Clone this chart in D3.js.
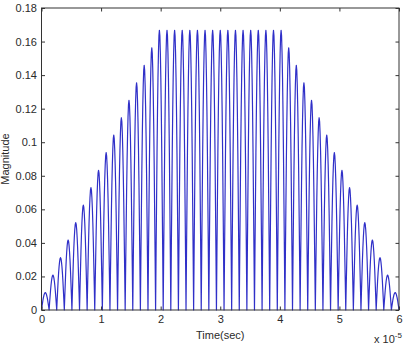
<!DOCTYPE html>
<html><head><meta charset="utf-8">
<script src="https://cdn.jsdelivr.net/npm/d3@7"></script>
<style>
html,body{margin:0;padding:0;background:#fff;}
svg{display:block;}
text{font-family:"Liberation Sans",Arial,sans-serif;}
</style></head>
<body>
<svg id="chart" width="405" height="345"></svg>
<script>
// ---- data ----
// peak magnitude of each successive hump (47 humps spanning 0..6e-5 s)
const rampUp = [0.0104,0.0208,0.0312,0.0417,0.0521,0.0625,0.0729,0.0833,0.0938,0.1042,0.1146,0.125,0.1354,0.1458,0.1563];
const flatTop = [0.1667,0.1667,0.1667,0.1667,0.1667,0.1667,0.1667,0.1667,0.1667,0.1667,0.1667,0.1667,0.1667,0.1667,0.1667,0.1667,0.1667];
const rampDown = [0.1563,0.1458,0.1354,0.125,0.1146,0.1042,0.0938,0.0833,0.0729,0.0625,0.0521,0.0417,0.0312,0.0208,0.0104];
const peakHeights = rampUp.concat(flatTop, rampDown);
// relative shape of one hump (rectified arch), sampled across its width
const humpProfile = [0,0.2,0.38,0.56,0.71,0.83,0.92,0.98,1,0.98,0.92,0.83,0.71,0.56,0.38,0.2,0];
const timeStart = 0, timeEnd = 6e-5;
const xTickValues = [0,1,2,3,4,5,6];           // in units of 1e-5 s
const yTickValues = [0,0.02,0.04,0.06,0.08,0.1,0.12,0.14,0.16,0.18];
const xLabel = "Time(sec)", yLabel = "Magnitude";

// ---- build series ----
const humpWidth = (timeEnd - timeStart) / peakHeights.length;
const series = [];
peakHeights.forEach((p, i) => {
  humpProfile.forEach((f, j) => {
    if (i > 0 && j === 0) return;
    series.push([timeStart + (i + j / (humpProfile.length - 1)) * humpWidth, p * f]);
  });
});

const svg = d3.select("#chart");
const L = 41.5, R = 399, T = 8, B = 310;
const x = d3.scaleLinear().domain([0, 6e-5]).range([L, R]);
const y = d3.scaleLinear().domain([0, 0.18]).range([B, T]);

svg.append("rect").attr("x",0).attr("y",0).attr("width",405).attr("height",345).attr("fill","#fff");

// line
svg.append("path")
  .datum(series)
  .attr("fill","none")
  .attr("stroke","#3030c8")
  .attr("stroke-width",1.2)
  .attr("stroke-linejoin","round")
  .attr("d", d3.line().x(d => x(d[0])).y(d => y(d[1])));

const tickLen = 3.5;
const xt = xTickValues.map(v => v * 1e-5);
const fmtY = d3.format("~g");

const gx = svg.append("g").attr("transform",`translate(0,${B})`)
  .call(d3.axisBottom(x).tickValues(xt).tickSizeInner(-tickLen).tickSizeOuter(0).tickPadding(5)
    .tickFormat((d,i) => String(xTickValues[i])));
const gxt = svg.append("g").attr("transform",`translate(0,${T})`)
  .call(d3.axisTop(x).tickValues(xt).tickSizeInner(-tickLen).tickSizeOuter(0).tickFormat(""));
const gy = svg.append("g").attr("transform",`translate(${L},0)`)
  .call(d3.axisLeft(y).tickValues(yTickValues).tickSizeInner(-tickLen).tickSizeOuter(0).tickPadding(4.5)
    .tickFormat(fmtY));
const gyr = svg.append("g").attr("transform",`translate(${R},0)`)
  .call(d3.axisRight(y).tickValues(yTickValues).tickSizeInner(-tickLen).tickSizeOuter(0).tickFormat(""));

[gx,gxt,gy,gyr].forEach(g => {
  g.select(".domain").remove();
  g.selectAll("line").attr("stroke","#333").attr("stroke-width",1);
  g.selectAll("text").attr("fill","#2a2a2a").style("font-size","11px").attr("font-family","'Liberation Sans',Arial,sans-serif");
});

// box
svg.append("rect").attr("x",L).attr("y",T).attr("width",R-L).attr("height",B-T)
  .attr("fill","none").attr("stroke","#333").attr("stroke-width",1);

// labels
svg.append("text").attr("x",(L+R)/2).attr("y",339).attr("text-anchor","middle")
  .attr("fill","#2a2a2a").style("font-size","11px").text(xLabel);
svg.append("text").attr("transform",`translate(9,${(T+B)/2}) rotate(-90)`).attr("text-anchor","middle")
  .attr("fill","#2a2a2a").style("font-size","11px").text(yLabel);
const ex = svg.append("text").attr("x",374).attr("y",343).attr("fill","#2a2a2a").style("font-size","11px");
ex.append("tspan").text("x 10");
ex.append("tspan").attr("dy",-5).style("font-size","8px").text("-5");
</script>
</body></html>
